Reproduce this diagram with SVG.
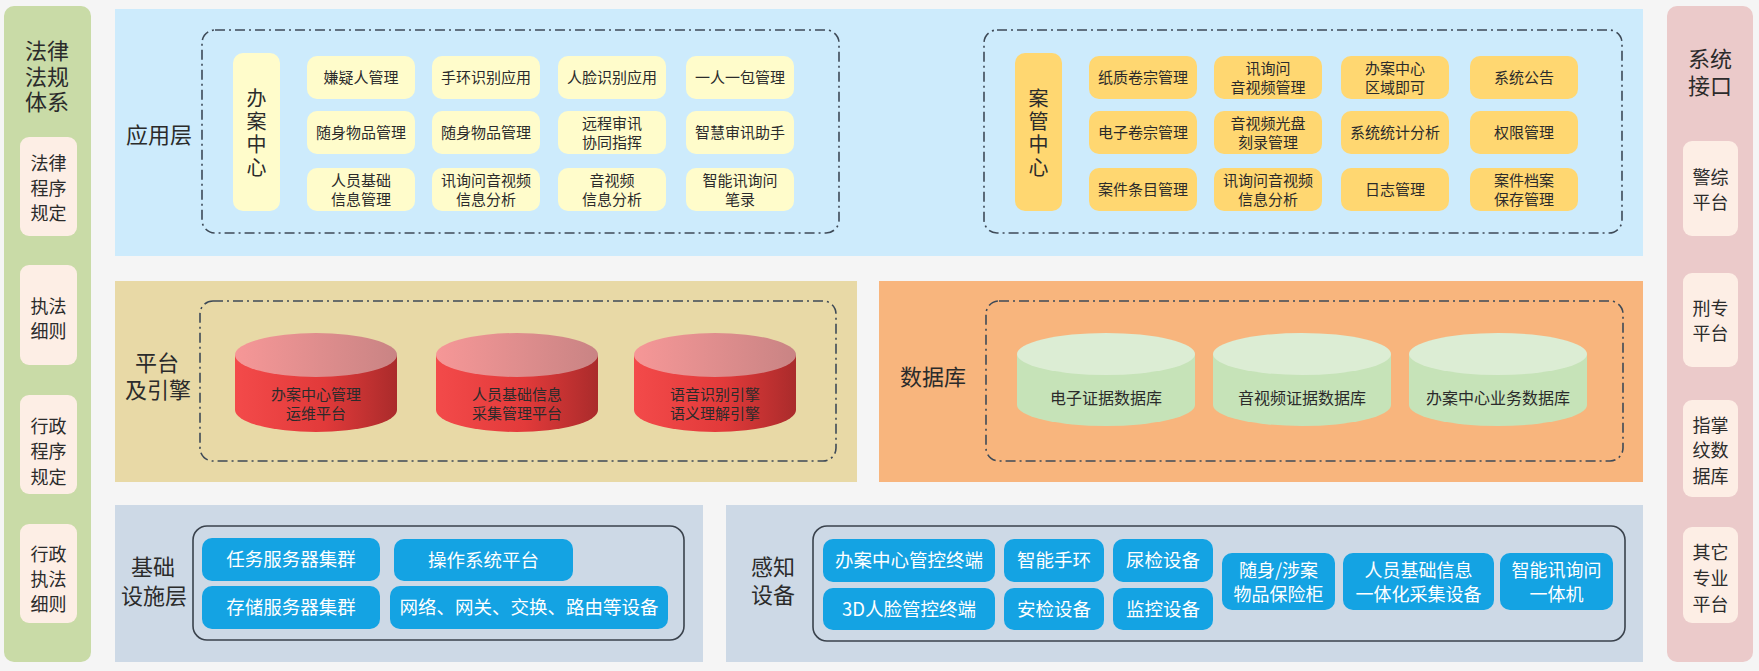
<svg xmlns="http://www.w3.org/2000/svg" width="1759" height="671" viewBox="0 0 1759 671">
<defs>
<style>
text{font-family:"Noto Sans CJK SC","Noto Sans",sans-serif;fill:#2b2b2b;text-anchor:middle}
.t22{font-size:22px}
.t20{font-size:20px}
.vt{font-size:20px;writing-mode:vertical-rl;letter-spacing:3px}
.t18{font-size:18px}
.t15{font-size:15px}
.t16{font-size:16px}
.w{fill:#ffffff;font-size:18.5px}
.w18{fill:#ffffff;font-size:18px}
.sub{fill:#fdeee5}
.dash{fill:none;stroke:#3e4a57;stroke-width:1.6;stroke-dasharray:10 4 2 4}
.solid{fill:none;stroke:#3a424c;stroke-width:1.6}
.ly{fill:#fffccb}
.oy{fill:#ffd771}
.btn{fill:#14a3e3}
</style>
<linearGradient id="redTop" x1="0" y1="0" x2="1" y2="0">
<stop offset="0" stop-color="#f69797"/>
<stop offset="1" stop-color="#c98484"/>
</linearGradient>
<linearGradient id="redBody" x1="0" y1="0" x2="1" y2="0">
<stop offset="0" stop-color="#f34a4a"/>
<stop offset="0.55" stop-color="#e23a3a"/>
<stop offset="1" stop-color="#aa2b2b"/>
</linearGradient>
</defs>
<rect x="0" y="0" width="1759" height="671" fill="#f5f5f5"/>

<!-- Left: 法律法规体系 -->
<g id="law-panel">
<rect x="4" y="6" width="87" height="656" rx="10" fill="#c9dba7"/>
<text class="t22" x="47" y="59">法律<tspan x="47" dy="26">法规</tspan><tspan x="47" dy="25">体系</tspan></text>
</g>
<g id="law-1">
<rect class="sub" x="20" y="137" width="57" height="99" rx="9"/>
<text class="t18" x="48.5" y="169.5">法律<tspan x="48.5" dy="25">程序</tspan><tspan x="48.5" dy="25">规定</tspan></text>
</g>
<g id="law-2">
<rect class="sub" x="20" y="265" width="57" height="100" rx="9"/>
<text class="t18" x="48.5" y="312.5">执法<tspan x="48.5" dy="25">细则</tspan></text>
</g>
<g id="law-3">
<rect class="sub" x="20" y="395" width="57" height="99" rx="9"/>
<text class="t18" x="48.5" y="432.5">行政<tspan x="48.5" dy="25.5">程序</tspan><tspan x="48.5" dy="25.5">规定</tspan></text>
</g>
<g id="law-4">
<rect class="sub" x="20" y="524" width="57" height="99" rx="9"/>
<text class="t18" x="48.5" y="560.5">行政<tspan x="48.5" dy="25">执法</tspan><tspan x="48.5" dy="25">细则</tspan></text>
</g>

<!-- Right: 系统接口 -->
<g id="iface-panel">
<rect x="1667" y="6" width="86" height="656" rx="10" fill="#ebcaca"/>
<text class="t22" x="1710" y="67">系统<tspan x="1710" dy="27">接口</tspan></text>
</g>
<g id="iface-1">
<rect class="sub" x="1683" y="141" width="55" height="95" rx="9"/>
<text class="t18" x="1710.5" y="183.5">警综<tspan x="1710.5" dy="25">平台</tspan></text>
</g>
<g id="iface-2">
<rect class="sub" x="1683" y="273" width="55" height="94" rx="9"/>
<text class="t18" x="1710.5" y="314.5">刑专<tspan x="1710.5" dy="25">平台</tspan></text>
</g>
<g id="iface-3">
<rect class="sub" x="1683" y="400" width="55" height="97" rx="9"/>
<text class="t18" x="1710.5" y="431.5">指掌<tspan x="1710.5" dy="25.5">纹数</tspan><tspan x="1710.5" dy="25.5">据库</tspan></text>
</g>
<g id="iface-4">
<rect class="sub" x="1683" y="527" width="55" height="96" rx="9"/>
<text class="t18" x="1710.5" y="558.5">其它<tspan x="1710.5" dy="26">专业</tspan><tspan x="1710.5" dy="26">平台</tspan></text>
</g>

<!-- 应用层 -->
<g id="app-layer">
<rect x="115" y="9" width="1528" height="247" fill="#cdebfc"/>
<text class="t22" x="159" y="143">应用层</text>
<rect class="dash" x="202" y="30" width="637" height="203" rx="13"/>
<rect class="dash" x="984" y="30" width="638" height="203" rx="13"/>
</g>
<g id="bazx">
<rect class="ly" x="233" y="53" width="47" height="158" rx="10"/>
<text class="vt" x="256.5" y="134">办案中心</text>
</g>
<g id="app-1"><rect class="ly" x="307" y="56" width="108" height="43" rx="10"/><text class="t15" x="361" y="83">嫌疑人管理</text></g>
<g id="app-2"><rect class="ly" x="432" y="56" width="108" height="43" rx="10"/><text class="t15" x="486" y="83">手环识别应用</text></g>
<g id="app-3"><rect class="ly" x="558" y="56" width="108" height="43" rx="10"/><text class="t15" x="612" y="83">人脸识别应用</text></g>
<g id="app-4"><rect class="ly" x="686" y="56" width="108" height="43" rx="10"/><text class="t15" x="740" y="83">一人一包管理</text></g>
<g id="app-5"><rect class="ly" x="307" y="111" width="108" height="43" rx="10"/><text class="t15" x="361" y="138">随身物品管理</text></g>
<g id="app-6"><rect class="ly" x="432" y="111" width="108" height="43" rx="10"/><text class="t15" x="486" y="138">随身物品管理</text></g>
<g id="app-7"><rect class="ly" x="558" y="111" width="108" height="43" rx="10"/><text class="t15" x="612" y="128.5">远程审讯<tspan x="612" dy="19">协同指挥</tspan></text></g>
<g id="app-8"><rect class="ly" x="686" y="111" width="108" height="43" rx="10"/><text class="t15" x="740" y="138">智慧审讯助手</text></g>
<g id="app-9"><rect class="ly" x="307" y="168" width="108" height="43" rx="10"/><text class="t15" x="361" y="185.5">人员基础<tspan x="361" dy="19">信息管理</tspan></text></g>
<g id="app-10"><rect class="ly" x="432" y="168" width="108" height="43" rx="10"/><text class="t15" x="486" y="185.5">讯询问音视频<tspan x="486" dy="19">信息分析</tspan></text></g>
<g id="app-11"><rect class="ly" x="558" y="168" width="108" height="43" rx="10"/><text class="t15" x="612" y="185.5">音视频<tspan x="612" dy="19">信息分析</tspan></text></g>
<g id="app-12"><rect class="ly" x="686" y="168" width="108" height="43" rx="10"/><text class="t15" x="740" y="185.5">智能讯询问<tspan x="740" dy="19">笔录</tspan></text></g>

<g id="agzx">
<rect class="oy" x="1015" y="53" width="47" height="158" rx="10"/>
<text class="vt" x="1038.5" y="134">案管中心</text>
</g>
<g id="case-1"><rect class="oy" x="1089" y="56" width="108" height="43" rx="10"/><text class="t15" x="1143" y="83">纸质卷宗管理</text></g>
<g id="case-2"><rect class="oy" x="1214" y="56" width="108" height="43" rx="10"/><text class="t15" x="1268" y="73.5">讯询问<tspan x="1268" dy="19">音视频管理</tspan></text></g>
<g id="case-3"><rect class="oy" x="1341" y="56" width="108" height="43" rx="10"/><text class="t15" x="1395" y="73.5">办案中心<tspan x="1395" dy="19">区域即可</tspan></text></g>
<g id="case-4"><rect class="oy" x="1470" y="56" width="108" height="43" rx="10"/><text class="t15" x="1524" y="83">系统公告</text></g>
<g id="case-5"><rect class="oy" x="1089" y="111" width="108" height="43" rx="10"/><text class="t15" x="1143" y="138">电子卷宗管理</text></g>
<g id="case-6"><rect class="oy" x="1214" y="111" width="108" height="43" rx="10"/><text class="t15" x="1268" y="128.5">音视频光盘<tspan x="1268" dy="19">刻录管理</tspan></text></g>
<g id="case-7"><rect class="oy" x="1341" y="111" width="108" height="43" rx="10"/><text class="t15" x="1395" y="138">系统统计分析</text></g>
<g id="case-8"><rect class="oy" x="1470" y="111" width="108" height="43" rx="10"/><text class="t15" x="1524" y="138">权限管理</text></g>
<g id="case-9"><rect class="oy" x="1089" y="168" width="108" height="43" rx="10"/><text class="t15" x="1143" y="195">案件条目管理</text></g>
<g id="case-10"><rect class="oy" x="1214" y="168" width="108" height="43" rx="10"/><text class="t15" x="1268" y="185.5">讯询问音视频<tspan x="1268" dy="19">信息分析</tspan></text></g>
<g id="case-11"><rect class="oy" x="1341" y="168" width="108" height="43" rx="10"/><text class="t15" x="1395" y="195">日志管理</text></g>
<g id="case-12"><rect class="oy" x="1470" y="168" width="108" height="43" rx="10"/><text class="t15" x="1524" y="185.5">案件档案<tspan x="1524" dy="19">保存管理</tspan></text></g>

<!-- 平台及引擎 -->
<g id="platform-layer">
<rect x="115" y="281" width="742" height="201" fill="#e8d9a6"/>
<text class="t22" x="157" y="371">平台<tspan x="158" dy="27">及引擎</tspan></text>
<rect class="dash" x="200" y="301" width="636" height="160" rx="13"/>
</g>
<g id="plat-1">
<path d="M235,355 L235,410 A81,22 0 0 0 397,410 L397,355 Z" fill="url(#redBody)"/>
<ellipse cx="316" cy="355" rx="81" ry="22" fill="url(#redTop)"/>
<text class="t15" x="316" y="400">办案中心管理<tspan x="316" dy="19">运维平台</tspan></text>
</g>
<g id="plat-2">
<path d="M436,355 L436,410 A81,22 0 0 0 598,410 L598,355 Z" fill="url(#redBody)"/>
<ellipse cx="517" cy="355" rx="81" ry="22" fill="url(#redTop)"/>
<text class="t15" x="517" y="400">人员基础信息<tspan x="517" dy="19">采集管理平台</tspan></text>
</g>
<g id="plat-3">
<path d="M634,355 L634,410 A81,22 0 0 0 796,410 L796,355 Z" fill="url(#redBody)"/>
<ellipse cx="715" cy="355" rx="81" ry="22" fill="url(#redTop)"/>
<text class="t15" x="715" y="400">语音识别引擎<tspan x="715" dy="19">语义理解引擎</tspan></text>
</g>

<!-- 数据库 -->
<g id="db-layer">
<rect x="879" y="281" width="764" height="201" fill="#f8b57d"/>
<text class="t22" x="933" y="385">数据库</text>
<rect class="dash" x="986" y="301" width="637" height="160" rx="13"/>
</g>
<g id="db-1">
<path d="M1017,354 L1017,405 A89,21 0 0 0 1195,405 L1195,354 Z" fill="#c6e3b8"/>
<ellipse cx="1106" cy="354" rx="89" ry="21" fill="#dcedd4"/>
<text class="t16" x="1106" y="404">电子证据数据库</text>
</g>
<g id="db-2">
<path d="M1213,354 L1213,405 A89,21 0 0 0 1391,405 L1391,354 Z" fill="#c6e3b8"/>
<ellipse cx="1302" cy="354" rx="89" ry="21" fill="#dcedd4"/>
<text class="t16" x="1302" y="404">音视频证据数据库</text>
</g>
<g id="db-3">
<path d="M1409,354 L1409,405 A89,21 0 0 0 1587,405 L1587,354 Z" fill="#c6e3b8"/>
<ellipse cx="1498" cy="354" rx="89" ry="21" fill="#dcedd4"/>
<text class="t16" x="1498" y="404">办案中心业务数据库</text>
</g>

<!-- 基础设施层 -->
<g id="infra-layer">
<rect x="115" y="505" width="588" height="157" fill="#cdd9e6"/>
<text class="t22" x="153" y="575">基础<tspan x="154" dy="29">设施层</tspan></text>
<rect class="solid" x="193" y="526" width="491" height="114" rx="14"/>
</g>
<g id="infra-1"><rect class="btn" x="202" y="538" width="178" height="43" rx="10"/><text class="w" x="291" y="566">任务服务器集群</text></g>
<g id="infra-2"><rect class="btn" x="394" y="539" width="179" height="42" rx="10"/><text class="w" x="483.5" y="566.5">操作系统平台</text></g>
<g id="infra-3"><rect class="btn" x="202" y="586" width="178" height="43" rx="10"/><text class="w" x="291" y="614">存储服务器集群</text></g>
<g id="infra-4"><rect class="btn" x="390" y="586" width="278" height="43" rx="10"/><text class="w" x="529" y="614">网络、网关、交换、路由等设备</text></g>

<!-- 感知设备 -->
<g id="sense-layer">
<rect x="726" y="505" width="917" height="157" fill="#cdd9e6"/>
<text class="t22" x="773" y="575">感知<tspan x="773" dy="28">设备</tspan></text>
<rect class="solid" x="813" y="526" width="812" height="115" rx="14"/>
</g>
<g id="sense-1"><rect class="btn" x="823" y="539" width="172" height="43" rx="10"/><text class="w" x="909" y="567">办案中心管控终端</text></g>
<g id="sense-2"><rect class="btn" x="823" y="588" width="172" height="42" rx="10"/><text class="w" x="909" y="615.5">3D人脸管控终端</text></g>
<g id="sense-3"><rect class="btn" x="1004" y="539" width="100" height="43" rx="10"/><text class="w" x="1054" y="567">智能手环</text></g>
<g id="sense-4"><rect class="btn" x="1004" y="588" width="100" height="42" rx="10"/><text class="w" x="1054" y="615.5">安检设备</text></g>
<g id="sense-5"><rect class="btn" x="1113" y="539" width="100" height="43" rx="10"/><text class="w" x="1163" y="567">尿检设备</text></g>
<g id="sense-6"><rect class="btn" x="1113" y="588" width="100" height="42" rx="10"/><text class="w" x="1163" y="615.5">监控设备</text></g>
<g id="sense-7"><rect class="btn" x="1222" y="553" width="113" height="57" rx="10"/><text class="w18" x="1278.5" y="576.5">随身/涉案<tspan x="1278.5" dy="24">物品保险柜</tspan></text></g>
<g id="sense-8"><rect class="btn" x="1343" y="553" width="151" height="57" rx="10"/><text class="w18" x="1418.5" y="576.5">人员基础信息<tspan x="1418.5" dy="24">一体化采集设备</tspan></text></g>
<g id="sense-9"><rect class="btn" x="1500" y="553" width="113" height="57" rx="10"/><text class="w18" x="1556.5" y="576.5">智能讯询问<tspan x="1556.5" dy="24">一体机</tspan></text></g>

<g id="connectors"></g>
</svg>
